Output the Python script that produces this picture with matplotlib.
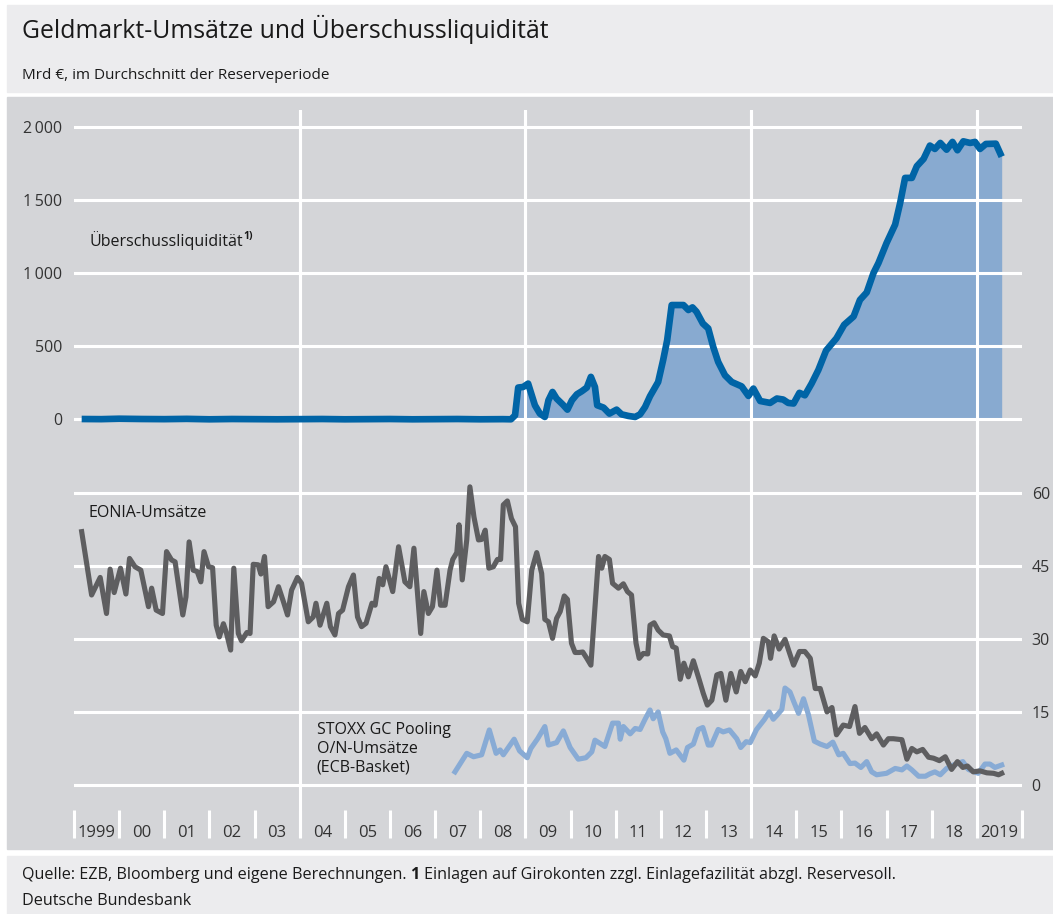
import matplotlib

matplotlib.use("Agg")
import matplotlib.pyplot as plt
from matplotlib.patches import Rectangle

W, H = 1053, 914

# --- data ----------------------------------------------------------------
EL_YEARS = [
    1999.17, 1999.6, 2000.0, 2000.5, 2001.0, 2001.5, 2002.0, 2002.5, 2003.0, 2003.5,
    2004.0, 2004.5, 2005.0, 2005.5, 2006.0, 2006.5, 2007.0, 2007.5, 2008.0, 2008.5,
    2008.68, 2008.77, 2008.84, 2008.95, 2009.06, 2009.21, 2009.32, 2009.43, 2009.51, 2009.60,
    2009.69, 2009.83, 2009.93, 2010.03, 2010.14, 2010.25, 2010.36, 2010.45, 2010.54, 2010.59,
    2010.73, 2010.86, 2011.02, 2011.13, 2011.28, 2011.43, 2011.54, 2011.65, 2011.76, 2011.94,
    2012.05, 2012.14, 2012.24, 2012.50, 2012.61, 2012.70, 2012.79, 2012.93, 2013.05, 2013.16,
    2013.27, 2013.42, 2013.57, 2013.68, 2013.79, 2013.94, 2014.05, 2014.20, 2014.42, 2014.57,
    2014.71, 2014.82, 2014.94, 2015.07, 2015.19, 2015.34, 2015.49, 2015.66, 2015.89, 2016.06,
    2016.27, 2016.41, 2016.56, 2016.71, 2016.82, 2017.00, 2017.19, 2017.30, 2017.41, 2017.56,
    2017.67, 2017.82, 2017.96, 2018.07, 2018.19, 2018.33, 2018.46, 2018.57, 2018.70, 2018.85,
    2018.96, 2019.07, 2019.20, 2019.42, 2019.55,
]
EL_VALUES = [
    2, 1, 4, 2, 1, 3, 0, 2, 1, 0,
    1, 2, 0, 1, 2, 0, 1, 2, 0, 1,
    0, 27, 217, 221, 244, 96, 39, 16, 130, 187,
    142, 100, 66, 130, 171, 192, 217, 290, 221, 96,
    80, 39, 66, 34, 23, 16, 34, 84, 158, 255,
    404, 541, 781, 781, 747, 765, 735, 655, 621, 495,
    392, 301, 255, 240, 225, 160, 210, 125, 112, 142,
    135, 112, 108, 181, 164, 245, 338, 470, 554, 646,
    703, 816, 867, 1000, 1068, 1205, 1331, 1478, 1650, 1650,
    1730, 1780, 1871, 1848, 1889, 1843, 1896, 1839, 1900, 1889,
    1896, 1848, 1882, 1884, 1795,
]

EONIA_YEARS = [
    1999.17, 1999.39, 1999.58, 1999.72, 1999.80, 1999.89, 2000.03, 2000.15, 2000.23, 2000.35,
    2000.48, 2000.65, 2000.72, 2000.82, 2000.96, 2001.05, 2001.16, 2001.24, 2001.41, 2001.48,
    2001.55, 2001.64, 2001.73, 2001.81, 2001.88, 2001.98, 2002.07, 2002.15, 2002.22, 2002.31,
    2002.38, 2002.47, 2002.54, 2002.64, 2002.71, 2002.83, 2002.90, 2002.97, 2003.08, 2003.14,
    2003.22, 2003.30, 2003.42, 2003.53, 2003.64, 2003.73, 2003.82, 2003.95, 2004.04, 2004.19,
    2004.30, 2004.36, 2004.45, 2004.60, 2004.68, 2004.78, 2004.86, 2004.95, 2005.08, 2005.19,
    2005.28, 2005.37, 2005.47, 2005.60, 2005.67, 2005.76, 2005.84, 2005.91, 2006.06, 2006.19,
    2006.33, 2006.44, 2006.53, 2006.68, 2006.75, 2006.85, 2006.94, 2007.04, 2007.12, 2007.22,
    2007.33, 2007.39, 2007.48, 2007.53, 2007.60, 2007.70, 2007.77, 2007.86, 2007.96, 2008.03,
    2008.11, 2008.19, 2008.29, 2008.38, 2008.45, 2008.51, 2008.60, 2008.69, 2008.78, 2008.85,
    2008.93, 2009.04, 2009.14, 2009.25, 2009.36, 2009.43, 2009.51, 2009.60, 2009.69, 2009.77,
    2009.86, 2009.93, 2010.02, 2010.10, 2010.19, 2010.27, 2010.36, 2010.45, 2010.62, 2010.69,
    2010.76, 2010.86, 2010.93, 2011.06, 2011.17, 2011.26, 2011.35, 2011.45, 2011.52, 2011.61,
    2011.71, 2011.76, 2011.85, 2011.94, 2012.05, 2012.19, 2012.26, 2012.34, 2012.43, 2012.51,
    2012.61, 2012.72, 2012.85, 2012.94, 2013.03, 2013.13, 2013.24, 2013.33, 2013.44, 2013.55,
    2013.67, 2013.77, 2013.87, 2013.98, 2014.09, 2014.18, 2014.27, 2014.38, 2014.43, 2014.51,
    2014.62, 2014.75, 2014.94, 2015.07, 2015.19, 2015.31, 2015.42, 2015.53, 2015.68, 2015.79,
    2015.89, 2016.04, 2016.18, 2016.30, 2016.40, 2016.52, 2016.67, 2016.78, 2016.93, 2017.04,
    2017.15, 2017.34, 2017.45, 2017.56, 2017.67, 2017.80, 2017.93, 2018.04, 2018.17, 2018.30,
    2018.44, 2018.57, 2018.69, 2018.79, 2018.92, 2019.07, 2019.22, 2019.37, 2019.48, 2019.55,
]
EONIA_VALUES = [
    52.0, 39.0, 42.6, 35.2, 44.3, 39.5, 44.5, 39.2, 46.5, 44.8,
    44.1, 36.6, 40.4, 35.9, 35.2, 47.9, 46.2, 45.8, 34.9, 38.6,
    49.9, 44.1, 43.8, 41.7, 47.9, 44.8, 44.6, 32.8, 30.4, 33.1,
    31.1, 27.7, 44.5, 31.1, 29.6, 31.3, 31.1, 45.3, 45.2, 43.3,
    46.9, 36.6, 37.6, 40.7, 37.6, 34.9, 40.0, 42.6, 41.4, 33.5,
    34.5, 37.3, 32.8, 37.3, 32.5, 30.8, 35.2, 35.9, 40.7, 43.1,
    34.5, 32.5, 33.2, 37.3, 36.9, 42.4, 41.1, 44.8, 39.7, 48.9,
    41.7, 40.7, 48.6, 31.1, 39.7, 35.2, 36.6, 44.1, 36.9, 36.9,
    44.1, 46.3, 47.7, 53.4, 42.1, 50.3, 61.2, 55.0, 50.3, 50.4,
    52.3, 44.5, 44.8, 46.3, 46.3, 57.5, 58.3, 54.7, 53.0, 37.3,
    34.0, 33.5, 44.1, 47.7, 43.4, 34.0, 33.5, 30.1, 34.2, 35.6,
    38.8, 38.1, 29.1, 27.2, 27.2, 27.3, 26.0, 24.6, 46.9, 44.5,
    46.9, 46.3, 41.4, 40.4, 41.3, 39.7, 39.0, 29.1, 26.0, 27.0,
    26.9, 32.8, 33.3, 31.8, 30.8, 30.6, 28.4, 28.1, 21.7, 25.0,
    22.2, 25.5, 21.6, 18.8, 16.4, 17.4, 22.6, 22.9, 17.4, 22.9,
    19.1, 23.3, 21.2, 23.6, 22.4, 25.0, 30.1, 29.4, 26.0, 30.6,
    27.9, 29.9, 24.6, 27.4, 27.4, 26.0, 19.8, 19.8, 15.0, 15.9,
    10.3, 12.3, 12.0, 16.1, 10.6, 11.8, 9.5, 10.5, 8.2, 9.5,
    9.5, 9.3, 5.3, 7.5, 6.8, 7.3, 5.7, 5.5, 5.0, 5.8,
    3.2, 4.8, 3.6, 3.9, 2.7, 2.9, 2.5, 2.4, 2.1, 2.4,
]

STOXX_YEARS = [
    2007.44, 2007.70, 2007.85, 2008.03, 2008.20, 2008.35, 2008.44, 2008.51, 2008.75, 2008.87,
    2009.04, 2009.12, 2009.27, 2009.43, 2009.51, 2009.69, 2009.84, 2009.99, 2010.17, 2010.34,
    2010.47, 2010.54, 2010.76, 2010.93, 2011.06, 2011.10, 2011.17, 2011.32, 2011.43, 2011.54,
    2011.65, 2011.76, 2011.83, 2011.94, 2012.04, 2012.11, 2012.20, 2012.34, 2012.51, 2012.59,
    2012.72, 2012.83, 2012.93, 2013.05, 2013.12, 2013.27, 2013.38, 2013.52, 2013.68, 2013.77,
    2013.89, 2013.98, 2014.12, 2014.29, 2014.40, 2014.49, 2014.58, 2014.68, 2014.75, 2014.86,
    2014.94, 2015.05, 2015.16, 2015.27, 2015.40, 2015.53, 2015.68, 2015.81, 2015.94, 2016.04,
    2016.19, 2016.30, 2016.43, 2016.56, 2016.67, 2016.78, 2017.00, 2017.19, 2017.34, 2017.45,
    2017.56, 2017.71, 2017.86, 2017.96, 2018.07, 2018.19, 2018.33, 2018.48, 2018.69, 2018.81,
    2019.03, 2019.18, 2019.29, 2019.40, 2019.55,
]
STOXX_VALUES = [
    2.7, 6.5, 5.8, 6.2, 11.3, 6.5, 7.2, 6.2, 9.4, 7.0,
    5.6, 7.5, 9.5, 12.0, 8.2, 8.7, 11.1, 7.7, 5.3, 5.6,
    6.8, 9.2, 7.9, 12.7, 12.7, 9.4, 12.0, 10.5, 11.6, 11.4,
    13.5, 15.4, 13.6, 15.0, 10.9, 9.5, 6.5, 7.2, 5.1, 7.7,
    8.4, 11.4, 11.8, 8.2, 8.2, 11.4, 10.9, 11.3, 9.5, 7.7,
    8.9, 8.7, 11.4, 13.4, 15.0, 13.5, 14.4, 15.5, 19.9, 19.1,
    17.2, 14.7, 17.7, 14.4, 9.0, 8.4, 7.9, 8.8, 6.2, 6.5,
    4.4, 4.5, 3.6, 4.8, 2.7, 2.1, 2.4, 3.4, 3.1, 3.9,
    3.1, 1.8, 1.8, 2.3, 2.7, 2.1, 3.4, 4.1, 4.8, 3.2,
    2.4, 4.3, 4.3, 3.6, 4.1,
]

YEAR_LABELS = ["1999", "00", "01", "02", "03", "04", "05", "06", "07", "08", "09",
               "10", "11", "12", "13", "14", "15", "16", "17", "18", "2019"]
FIRST_YEAR = 1999
BIG_YEARS = [2004, 2009, 2014, 2019]
TOP_TICKS = [0, 500, 1000, 1500, 2000]
TOP_LABELS = ["0", "500", "1\u2009000", "1\u2009500", "2\u2009000"]
BOT_TICKS = [0, 15, 30, 45, 60]

# --- style -----------------------------------------------------------------
BAND = "#ececee"
PLOT_BG = "#d4d5d8"
BLUE = "#0064a6"
FILL = "#88aad0"
EONIA_C = "#5e5e60"
STOXX_C = "#88abd5"
TXT = "#1a1a1a"
TICK_TXT = "#333333"
GRID_LW = 2.2

plt.rcParams["font.family"] = ["Open Sans", "DejaVu Sans"]


def fx(px):
    return px / W


def fy(py):
    return 1 - py / H


def ax_rect(x0, y0, x1, y1):
    # pixel box (top-left origin) -> figure fraction rect
    return [fx(x0), fy(y1), (x1 - x0) / W, (y1 - y0) / H]


fig = plt.figure(figsize=(W / 100, H / 100), dpi=100)
fig.patch.set_facecolor("white")
for y0, y1, c in [(5, 92, BAND), (97, 849, PLOT_BG), (856, 914, BAND)]:
    fig.patches.append(Rectangle((fx(7), fy(y1)), 1 - fx(7), (y1 - y0) / H,
                                 transform=fig.transFigure, color=c, zorder=-10))

fig.text(fx(22), fy(38), "Geldmarkt-Umsätze und Überschussliquidität", fontsize=17.8,
         color=TXT, va="baseline")
fig.text(fx(22), fy(79), "Mrd €, im Durchschnitt der Reserveperiode", fontsize=11,
         color=TXT, va="baseline")

# background axes: 5-year lines and the year axis
years_end = FIRST_YEAR + len(YEAR_LABELS)
ax_bg = fig.add_axes(ax_rect(74, 110, 1022, 838))
ax_bg.set_xlim(FIRST_YEAR, years_end)
ax_bg.set_ylim(0, 728)
ax_bg.set_axis_off()
ax_bg.vlines(BIG_YEARS, 0, 728, colors="white", lw=GRID_LW)
bounds = list(range(FIRST_YEAR, years_end + 1))
ax_bg.vlines(bounds, 0, 28, colors="white", lw=GRID_LW, clip_on=False)
for i, lab in enumerate(YEAR_LABELS):
    ax_bg.text(FIRST_YEAR + i + 0.5, 1, lab, ha="center", va="baseline",
               fontsize=12, color=TICK_TXT)

# top panel: excess liquidity
ax_top = fig.add_axes(ax_rect(74, 110, 1022, 445))
ax_top.set_facecolor("none")
ax_top.set_xlim(FIRST_YEAR, years_end)
ax_top.set_ylim((419.3 - 445) / 0.1463, (419.3 - 110) / 0.1463)
for s in ax_top.spines.values():
    s.set_visible(False)
ax_top.set_axisbelow(True)
ax_top.set_yticks(TOP_TICKS, TOP_LABELS)
ax_top.set_xticks(BIG_YEARS, [])
ax_top.tick_params(length=0, labelsize=11.5, labelcolor=TICK_TXT)
ax_top.tick_params(axis="y", pad=8.6)
ax_top.grid(True, color="white", lw=GRID_LW)
ax_top.fill_between(EL_YEARS, EL_VALUES, 0, color=FILL, lw=0, zorder=0.2)
ax_top.plot(EL_YEARS, EL_VALUES, color=BLUE, lw=4.8, solid_capstyle="butt", zorder=3)
lab = ax_top.text(1999.35, 1185, "Überschussliquidität", fontsize=11.5, color=TXT,
                  va="baseline")
ax_top.annotate("1)", xy=(1, 1), xycoords=lab, xytext=(0.3, 0), textcoords="offset points",
                va="top", fontsize=7.5, color=TXT, weight="bold")

# bottom panel: turnover
ax_bot = fig.add_axes(ax_rect(74, 455, 1022, 800))
ax_bot.set_facecolor("none")
ax_bot.set_xlim(FIRST_YEAR, years_end)
ax_bot.set_ylim((785 - 800) / 4.872, (785 - 455) / 4.872)
for s in ax_bot.spines.values():
    s.set_visible(False)
ax_bot.set_axisbelow(True)
ax_bot.yaxis.tick_right()
ax_bot.set_yticks(BOT_TICKS)
ax_bot.tick_params(axis="x", bottom=False, labelbottom=False)
ax_bot.tick_params(axis="y", length=0, labelsize=11.5, labelcolor=TICK_TXT, pad=7)
ax_bot.grid(True, axis="y", color="white", lw=GRID_LW)
ax_bot.plot(STOXX_YEARS, STOXX_VALUES, color=STOXX_C, lw=3.7, zorder=3, clip_on=False)
ax_bot.plot(EONIA_YEARS, EONIA_VALUES, color=EONIA_C, lw=3.7, zorder=4, clip_on=False)
ax_bot.text(1999.33, 55.1, "EONIA-Umsätze", fontsize=11.5, color=TXT, va="baseline")
ax_bot.text(2004.38, 2.7, "STOXX GC Pooling\nO/N-Umsätze\n(ECB-Basket)", fontsize=11.5,
            color=TXT, va="baseline", linespacing=1.25)

# footer
FOOT_FS = 11.6
t1 = fig.text(fx(22), fy(879), "Quelle: EZB, Bloomberg und eigene Berechnungen.",
              fontsize=FOOT_FS, color=TXT, va="baseline")
t2 = fig.text(0, fy(879), "1", fontsize=FOOT_FS, color=TXT, weight="bold", va="baseline")
fig.canvas.draw()
r = fig.canvas.get_renderer()
bb = t1.get_window_extent(r)
t2.set_x((bb.x1 + 4) / W)
bb2 = t2.get_window_extent(r)
fig.text((bb2.x1 + 4) / W, fy(879),
         "Einlagen auf Girokonten zzgl. Einlagefazilität abzgl. Reservesoll.",
         fontsize=FOOT_FS, color=TXT, va="baseline")
fig.text(fx(22), fy(905), "Deutsche Bundesbank", fontsize=FOOT_FS, color=TXT, va="baseline")

fig.savefig("out.png", dpi=100)
